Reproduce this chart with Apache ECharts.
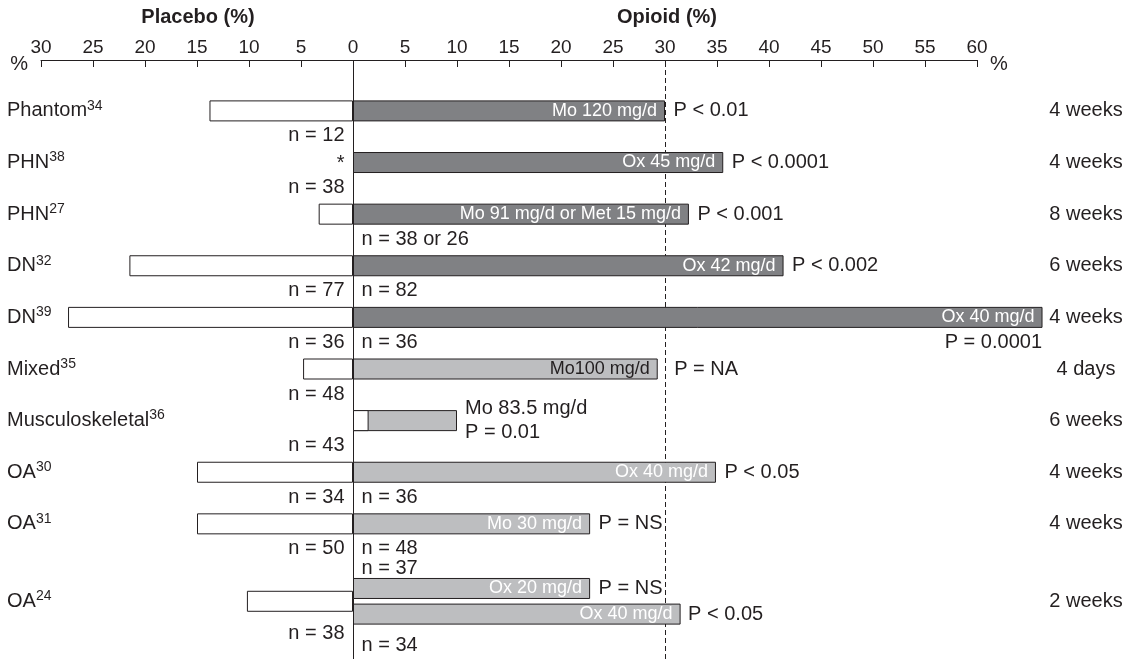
<!DOCTYPE html>
<html>
<head>
<meta charset="utf-8">
<script src="https://cdn.jsdelivr.net/npm/echarts@6/dist/echarts.min.js"></script>
<style>html,body{margin:0;padding:0;background:#fff}#c{width:1138px;height:659px}</style>
</head>
<body>
<div id="c"></div>
<script>
// ---------------- data ----------------
const studies   = ['Phantom','PHN','PHN','DN','DN','Mixed','Musculoskeletal','OA','OA','OA'];
const refs      = ['34','38','27','32','39','35','36','30','31','24'];
const placebo   = [13.8, null, 3.3, 21.5, 27.4, 4.8, 1.5, 15.0, 15.0, 10.2];
const placeboMark = ['', '*', '', '', '', '', '', '', '', ''];
const opioid    = [30.0, 35.6, 32.3, 41.4, 66.3, 29.3, 10.0, 34.9, 22.8, 22.8];
const opioidArm2 = [null, null, null, null, null, null, null, null, null, 31.5];
const doses     = ['Mo 120 mg/d','Ox 45 mg/d','Mo 91 mg/d or Met 15 mg/d','Ox 42 mg/d','Ox 40 mg/d',
                   'Mo100 mg/d','Mo 83.5 mg/d','Ox 40 mg/d','Mo 30 mg/d','Ox 20 mg/d'];
const dosesArm2 = [null, null, null, null, null, null, null, null, null, 'Ox 40 mg/d'];
const pValues   = ['P < 0.01','P < 0.0001','P < 0.001','P < 0.002','P = 0.0001',
                   'P = NA','P = 0.01','P < 0.05','P = NS','P = NS'];
const pValuesArm2 = [null, null, null, null, null, null, null, null, null, 'P < 0.05'];
const durations = ['4 weeks','4 weeks','8 weeks','6 weeks','4 weeks','4 days','6 weeks','4 weeks','4 weeks','2 weeks'];
const placeboN  = ['n = 12','n = 38','','n = 77','n = 36','n = 48','n = 43','n = 34','n = 50','n = 38'];
const opioidN   = ['','','n = 38 or 26','n = 82','n = 36','','','n = 36','n = 48','n = 37'];
const opioidNArm2 = ['','','','','','','','','','n = 34'];
const neuropathic = [true, true, true, true, true, false, false, false, false, false];
const placeboOnOpioidSide = ['Musculoskeletal'];
const axisMin = -30, axisMax = 60, axisStep = 5;

// ---------------- layout helpers ----------------
const INK = '#231f20', DARK = '#808184', LIGHT = '#bdbec0';
const FONT = 'Liberation Sans, Arial, Helvetica, sans-serif';
const BAR_W = 21, ARM_GAP = 0.22;
const armShift = BAR_W * (1 + ARM_GAP) / 2;

// half-row slots: every row takes two, a two-arm row takes one more above it
const slotRow = [];
studies.forEach((s, i) => {
  if (opioidArm2[i] != null) slotRow.push(null);
  slotRow.push(i);
  slotRow.push(null);
});
const rowSlot = [];
slotRow.forEach((r, k) => { if (r !== null) rowSlot[r] = k; });
const slotNames = slotRow.map((r, k) => r === null ? ' '.repeat(k + 1) : studies[r] + refs[r]);
const twoArm = i => opioidArm2[i] != null;

const lbl = (extra) => Object.assign({show: true, color: INK, fontSize: 20, fontFamily: FONT}, extra);

// main opioid bars
const mainBars = slotRow.map(r => {
  if (r === null || twoArm(r)) return '-';
  const short = opioid[r] < 15;
  return {
    value: opioid[r],
    itemStyle: {color: neuropathic[r] ? DARK : LIGHT},
    label: short
      ? lbl({position: 'right', distance: 8, lineHeight: 24, formatter: doses[r] + '\n' + pValues[r]})
      : lbl({position: 'insideRight', distance: 8, fontSize: 18,
             color: (!neuropathic[r] && r === 5) ? INK : '#fff', formatter: doses[r]})
  };
});
const placeboBars = slotRow.map(r => {
  if (r === null || placebo[r] == null) return '-';
  return placeboOnOpioidSide.includes(studies[r]) ? placebo[r] : -placebo[r];
});
const armBars = (arr, dl) => slotRow.map(r => {
  if (r === null || !twoArm(r)) return '-';
  return {
    value: arr[r],
    itemStyle: {color: neuropathic[r] ? DARK : LIGHT},
    label: lbl({position: 'insideRight', distance: 8, fontSize: 18, color: '#fff', formatter: dl[r]})
  };
});

// text layer points
const texts = [];
const addText = (x, slot, text, position, dy, distance) => {
  if (!text) return;
  texts.push({value: [x, slot], label: lbl({position, offset: [0, dy], distance: distance == null ? 8 : distance, formatter: text})});
};
studies.forEach((s, i) => {
  const k = rowSlot[i];
  addText(0, k, placeboMark[i], 'left', 1, 8);
  if (twoArm(i)) {
    addText(0, k, placeboN[i], 'left', 32, 8);
    addText(0, k, opioidN[i], 'right', -armShift - 20, 8);
    addText(0, k, opioidNArm2[i], 'right', armShift + 31, 8);
    addText(opioid[i], k, pValues[i], 'right', -armShift, 8);
    addText(opioidArm2[i], k, pValuesArm2[i], 'right', armShift, 7);
  } else {
    addText(0, k, placeboN[i], 'left', 25, 8);
    addText(0, k, opioidN[i], 'right', 25, 8);
    if (opioid[i] < 15) return;
    if (opioid[i] > axisMax) addText(opioid[i], k, pValues[i], 'left', 25, 0);
    else addText(opioid[i], k, pValues[i], 'right', 0, i === 5 ? 16 : 8);
  }
});

// ---------------- chart ----------------
const chart = echarts.init(document.getElementById('c'), null, {renderer: 'canvas'});
const catAxis = (extra) => Object.assign({
  type: 'category', gridIndex: 1, inverse: true, data: slotNames,
  axisLine: {show: false}, axisTick: {show: false}, splitLine: {show: false}
}, extra);

chart.setOption({
  animation: false,
  backgroundColor: '#fff',
  textStyle: {fontFamily: FONT, color: INK},
  graphic: [
    {type: 'text', x: 198, y: 17, style: {text: 'Placebo (%)', fontSize: 20, fontWeight: 'bold', fontFamily: FONT, fill: INK, align: 'center', verticalAlign: 'middle'}},
    {type: 'text', x: 667, y: 17, style: {text: 'Opioid (%)', fontSize: 20, fontWeight: 'bold', fontFamily: FONT, fill: INK, align: 'center', verticalAlign: 'middle'}},
    {type: 'text', x: 28, y: 64, style: {text: '%', fontSize: 20, fontFamily: FONT, fill: INK, align: 'right', verticalAlign: 'middle'}},
    {type: 'text', x: 990, y: 64, style: {text: '%', fontSize: 20, fontFamily: FONT, fill: INK, align: 'left', verticalAlign: 'middle'}}
  ],
  grid: [
    {left: 41, right: 161, top: 60, bottom: 0},
    {left: 41, right: 57, top: 98, bottom: 19}
  ],
  xAxis: [
    {type: 'value', gridIndex: 0, position: 'top', min: axisMin, max: axisMax, interval: axisStep,
     axisLine: {show: true, onZero: false, lineStyle: {color: INK, width: 1}},
     axisTick: {show: true, inside: true, length: 7, lineStyle: {color: INK, width: 1}},
     axisLabel: {fontSize: 19, color: INK, margin: 3, formatter: v => String(Math.abs(v))},
     splitLine: {show: false}},
    {type: 'value', gridIndex: 1, min: axisMin, max: 70, show: false}
  ],
  yAxis: [
    {type: 'value', gridIndex: 0, min: 0, max: 1, show: false},
    catAxis({position: 'left', axisLabel: {
      show: true, align: 'left', margin: 34, interval: 0,
      formatter: (v, idx) => {
        const r = slotRow[idx];
        return r === null ? '' : '{n|' + studies[r] + '}{s|' + refs[r] + '}';
      },
      rich: {
        n: {fontSize: 20, color: INK, fontFamily: FONT, lineHeight: 24},
        s: {fontSize: 14, color: INK, fontFamily: FONT, verticalAlign: 'top', lineHeight: 22}
      }
    }}),
    catAxis({position: 'right', axisLabel: {
      show: true, align: 'center', margin: 5, fontSize: 20, color: INK, interval: 0,
      formatter: (v, idx) => { const r = slotRow[idx]; return r === null ? '' : durations[r]; }
    }})
  ],
  series: [
    {type: 'line', xAxisIndex: 0, yAxisIndex: 0, data: [[0, 0.5]], showSymbol: false, symbol: 'none', z: 1,
     lineStyle: {opacity: 0}, silent: true,
     markLine: {silent: true, z: 1, symbol: 'none', label: {show: false}, animation: false,
       data: [
         {xAxis: 0, lineStyle: {color: INK, width: 1, type: 'solid'}},
         {xAxis: 30, lineStyle: {color: INK, width: 1, type: [5, 3]}}
       ]}},
    {type: 'bar', xAxisIndex: 1, yAxisIndex: 1, barWidth: BAR_W, barGap: '-100%', z: 3,
     itemStyle: {borderColor: INK, borderWidth: 1}, data: mainBars},
    {type: 'bar', xAxisIndex: 1, yAxisIndex: 1, barWidth: BAR_W, barGap: '-100%', z: 4,
     itemStyle: {color: '#fff', borderColor: INK, borderWidth: 1}, data: placeboBars},
    {type: 'bar', xAxisIndex: 1, yAxisIndex: 2, barWidth: BAR_W, barGap: (ARM_GAP * 100) + '%', z: 3,
     itemStyle: {borderColor: INK, borderWidth: 1}, data: armBars(opioid, doses)},
    {type: 'bar', xAxisIndex: 1, yAxisIndex: 2, barWidth: BAR_W, barGap: (ARM_GAP * 100) + '%', z: 3,
     itemStyle: {borderColor: INK, borderWidth: 1}, data: armBars(opioidArm2, dosesArm2)},
    {type: 'scatter', xAxisIndex: 1, yAxisIndex: 1, symbolSize: 1, z: 5, silent: true,
     itemStyle: {color: 'rgba(0,0,0,0)', opacity: 1}, data: texts}
  ]
});
</script>
</body>
</html>
